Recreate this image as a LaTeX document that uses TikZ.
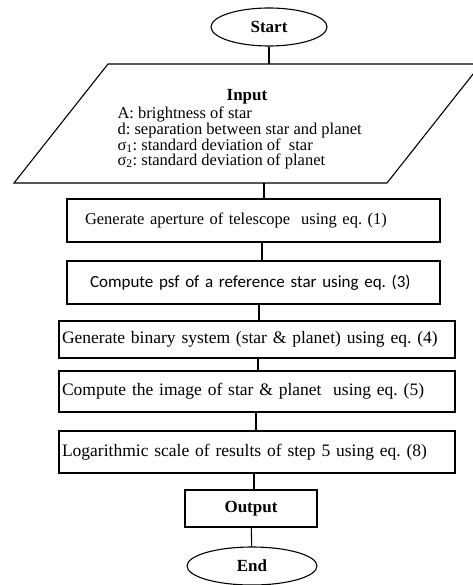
\documentclass[tikz,border=0pt]{standalone}
\usepackage{fontspec}
\setmainfont{Liberation Serif}
\newfontfamily\calibri{Carlito}
\usetikzlibrary{shapes.geometric}
\frenchspacing

\begin{document}
\begin{tikzpicture}[x=1pt, y=-1pt, line width=1.1pt,
    term/.style={ellipse, draw, inner sep=0pt, font=\fontsize{17}{20}\selectfont\bfseries},
    stepbox/.style={draw, rectangle, align=left, inner ysep=0pt, font=\fontsize{17.5}{20}\selectfont}]

    \useasboundingbox (0,0) rectangle (472,585);

    % Inizio
    \node[term, minimum width=116pt, minimum height=38pt] (start) at (269,27) {Start};

    % Parallelogramma dei dati in ingresso
    \coordinate (inTL) at (108,64);
    \coordinate (inTR) at (481,64);
    \coordinate (inBR) at (387,183);
    \coordinate (inBL) at (14,183);
    \draw (inTL) -- (inTR) -- (inBR) -- (inBL) -- cycle;
    \node[font=\fontsize{17}{20}\selectfont\bfseries, anchor=base] (inhead) at (247,101) {Input};
    \node[align=left, anchor=north west, inner sep=0pt, font=\fontsize{16.5}{15}\selectfont] (inlist) at (117,106)
        {A: brightness of star\\
         d: separation between star and planet\\
         σ\textsubscript{1}: standard deviation of\ \ star\\
         σ\textsubscript{2}: standard deviation of planet};

    % Passi
    \node[stepbox, minimum height=43pt, text width=337pt, inner xsep=18pt, font=\fontsize{16.5}{20}\selectfont] (box1) at (253.5,220.5)
        {Generate aperture of telescope\ \ using eq. (1)};
    \node[stepbox, minimum height=43pt, text width=327pt, inner xsep=23pt, font=\fontsize{17}{20}\calibri] (box2) at (253.5,282.5)
        {Compute psf of a reference star using eq. (3)};
    \node[stepbox, minimum height=37pt, text width=390pt, inner xsep=3pt] (box3) at (257,339.5)
        {Generate binary system (star \& planet) using eq. (4)};
    \node[stepbox, minimum height=41pt, text width=390pt, inner xsep=3pt] (box4) at (257,391.5)
        {Compute the image of star \& planet\ \ using eq. (5)};
    \node[stepbox, minimum height=42pt, text width=390pt, inner xsep=3pt] (box5) at (257,452)
        {Logarithmic scale of results of step 5 using eq. (8)};

    % Uscita e fine
    \node[draw, rectangle, minimum width=132pt, minimum height=37pt, font=\fontsize{17}{20}\selectfont\bfseries] (output) at (251,508.5) {Output};
    \node[term, minimum width=130pt, minimum height=38pt] (end) at (252,566) {End};

    % Collegamenti
    \coordinate (inbot) at (264,183);
    \draw (start) -- (start |- inTL);
    \draw (inbot) -- (inbot |- box1.north);
    \draw (box1.south -| 262,0) -- (box2.north -| 262,0);
    \draw (box2.south -| 259,0) -- (box3.north -| 259,0);
    \draw (box3.south -| 258,0) -- (box4.north -| 258,0);
    \draw (box4.south -| 256,0) -- (box5.north -| 256,0);
    \draw (box5.south -| 254,0) -- (output.north -| 254,0);
    \draw (output) -- (end);

\end{tikzpicture}
\end{document}
